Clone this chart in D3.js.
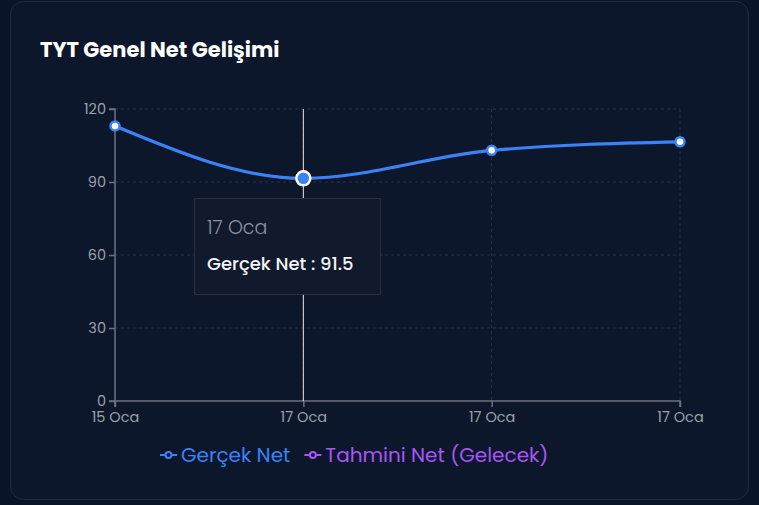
<!DOCTYPE html>
<html>
<head>
<meta charset="utf-8">
<script src="https://cdn.jsdelivr.net/npm/d3@7"></script>
<style>
  html, body { margin: 0; padding: 0; background: #0a1428; }
  svg { display: block; font-family: "Poppins", "Inter", "Noto Sans", sans-serif; }
</style>
</head>
<body>
<svg id="chart" width="759" height="505"></svg>
<script>
// chart data
let dates = ["15 Oca", "17 Oca", "17 Oca", "17 Oca"];
let actualNet = [113, 91.5, 103, 106.5];
let forecastNet = [];   // no future values drawn
let yTicks = [0, 30, 60, 90, 120];
let activeIndex = 1;

let seriesNames = ["Gerçek Net", "Tahmini Net (Gelecek)"];
let seriesColors = ["#3b82f6", "#a855f7"];

let svg = d3.select("#chart");
let position = { left: 115, top: 109, right: 680, bottom: 401 };

// card
svg.append("rect")
    .attr("x", 10.5).attr("y", 1.5)
    .attr("width", 738).attr("height", 498)
    .attr("rx", 13)
    .style("fill", "#0d172b")
    .style("stroke", "#232d40");

svg.append("text")
    .attr("x", 40).attr("y", 57)
    .style("fill", "#ffffff")
    .style("font-size", "21px")
    .style("font-weight", "700")
    .text("TYT Genel Net Gelişimi");

let x = d3.scalePoint()
    .domain(d3.range(dates.length))
    .range([position.left, position.right]);

let y = d3.scaleLinear()
    .domain([0, 120])
    .range([position.bottom, position.top]);

// grid
let grid = svg.append("g");
grid.selectAll(".hg")
    .data(yTicks.filter(d => d > 0))
    .enter().append("line")
      .attr("x1", position.left).attr("x2", position.right)
      .attr("y1", d => y(d)).attr("y2", d => y(d))
      .style("stroke", "#2a3445")
      .style("stroke-dasharray", "3,3");
grid.selectAll(".vg")
    .data(d3.range(1, dates.length))
    .enter().append("line")
      .attr("x1", d => x(d)).attr("x2", d => x(d))
      .attr("y1", position.top).attr("y2", position.bottom)
      .style("stroke", "#2a3445")
      .style("stroke-dasharray", "3,3");

// axes
let yAxis = svg.append("g")
    .attr("transform", "translate(" + position.left + ",0)")
    .call(d3.axisLeft(y).tickValues(yTicks).tickSize(6).tickPadding(3));
let xAxis = svg.append("g")
    .attr("transform", "translate(0," + position.bottom + ")")
    .call(d3.axisBottom(x).tickFormat(i => dates[i]).tickSize(6).tickPadding(5));

[yAxis, xAxis].forEach(function(ax) {
    ax.selectAll("path, line").style("stroke", "#6b7383").style("stroke-width", 1.5);
    ax.selectAll("text").style("fill", "#9aa1ae").style("font-size", "14.5px")
        .style("font-family", "\"Poppins\", \"Inter\", \"Noto Sans\", sans-serif");
});
xAxis.select(".domain").attr("d", "M" + position.left + ",6V0H" + position.right + "V6");
yAxis.select(".domain").attr("d", "M-6," + position.top + "H0V" + position.bottom + "H-6");

// cursor line
svg.append("line")
    .attr("x1", x(activeIndex)).attr("x2", x(activeIndex))
    .attr("y1", position.top).attr("y2", position.bottom)
    .style("stroke", "#e5e7eb")
    .style("stroke-width", 1);

// line
let line = d3.line()
    .x((d, i) => x(i))
    .y(d => y(d))
    .curve(d3.curveMonotoneX);

svg.append("path")
    .datum(actualNet)
    .attr("d", line)
    .style("fill", "none")
    .style("stroke", seriesColors[0])
    .style("stroke-width", 3.2);

if (forecastNet.length) {
    svg.append("path")
        .datum(forecastNet)
        .attr("d", line)
        .style("fill", "none")
        .style("stroke", seriesColors[1])
        .style("stroke-width", 3);
}

svg.append("g").selectAll("circle")
    .data(actualNet)
    .enter().append("circle")
      .attr("cx", (d, i) => x(i))
      .attr("cy", d => y(d))
      .attr("r", (d, i) => i === activeIndex ? 7 : 4.5)
      .style("fill", (d, i) => i === activeIndex ? seriesColors[0] : "#ffffff")
      .style("stroke", (d, i) => i === activeIndex ? "#ffffff" : seriesColors[0])
      .style("stroke-width", 2.5);

// tooltip
let tip = svg.append("g").attr("transform", "translate(194,198)");
tip.append("rect")
    .attr("x", 0.5).attr("y", 0.5)
    .attr("width", 186).attr("height", 96)
    .style("fill", "#101a2c")
    .style("stroke", "#263143");
tip.append("text")
    .attr("x", 13).attr("y", 36)
    .style("fill", "#8b93a2")
    .style("font-size", "19px")
    .style("font-weight", "300")
    .text(dates[activeIndex]);
tip.append("text")
    .attr("x", 13).attr("y", 72)
    .style("fill", "#f3f4f6")
    .style("font-size", "18px")
    .style("font-weight", "500")
    .text(seriesNames[0] + " : " + actualNet[activeIndex]);

// legend
let legend = svg.append("g").attr("transform", "translate(160,455)");
let lx = 0;
seriesNames.forEach(function(name, i) {
    let g = legend.append("g").attr("transform", "translate(" + lx + ",0)");
    g.append("line").attr("x1", 0).attr("x2", 17).attr("y1", 0).attr("y2", 0)
        .style("stroke", seriesColors[i]).style("stroke-width", 2);
    g.append("circle").attr("cx", 8.5).attr("cy", 0).attr("r", 3)
        .style("fill", "#0d172b").style("stroke", seriesColors[i]).style("stroke-width", 2);
    let t = g.append("text").attr("x", 21).attr("y", 7)
        .style("fill", seriesColors[i])
        .style("font-size", "20px")
        .text(name);
    lx += 21 + t.node().getComputedTextLength() + 14;
});
</script>
</body>
</html>
